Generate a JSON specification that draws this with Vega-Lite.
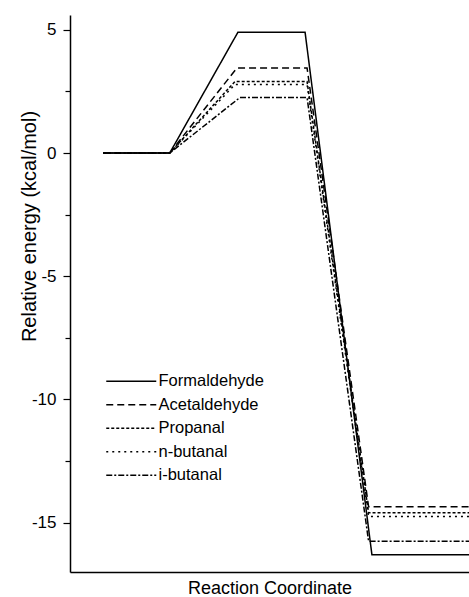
{
  "$schema": "https://vega.github.io/schema/vega-lite/v6.json",
  "width": 399,
  "height": 557,
  "autosize": "none",
  "padding": {"left": 70, "top": 15, "right": 0, "bottom": 25},
  "background": "white",
  "config": {
    "view": {"stroke": null},
    "font": "Liberation Sans",
    "axis": {"domainColor": "black", "tickColor": "black", "labelColor": "black", "titleColor": "black", "grid": false, "domainWidth": 1.5, "tickWidth": 1.2, "labelFont": "Liberation Sans", "titleFont": "Liberation Sans", "titleFontWeight": "normal"}
  },
  "data": {"values": [
    {"series": "Formaldehyde", "x": 1, "y": 0},
    {"series": "Formaldehyde", "x": 3, "y": 0},
    {"series": "Formaldehyde", "x": 5.05, "y": 4.9},
    {"series": "Formaldehyde", "x": 7.07, "y": 4.9},
    {"series": "Formaldehyde", "x": 9.08, "y": -16.3},
    {"series": "Formaldehyde", "x": 12, "y": -16.3},
    {"series": "Acetaldehyde", "x": 1, "y": 0},
    {"series": "Acetaldehyde", "x": 3, "y": 0},
    {"series": "Acetaldehyde", "x": 5.02, "y": 3.45},
    {"series": "Acetaldehyde", "x": 7.13, "y": 3.45},
    {"series": "Acetaldehyde", "x": 8.98, "y": -14.35},
    {"series": "Acetaldehyde", "x": 12, "y": -14.35},
    {"series": "Propanal", "x": 1, "y": 0},
    {"series": "Propanal", "x": 3, "y": 0},
    {"series": "Propanal", "x": 4.96, "y": 2.9},
    {"series": "Propanal", "x": 7.13, "y": 2.9},
    {"series": "Propanal", "x": 8.98, "y": -14.6},
    {"series": "Propanal", "x": 12, "y": -14.6},
    {"series": "n-butanal", "x": 1, "y": 0},
    {"series": "n-butanal", "x": 3, "y": 0},
    {"series": "n-butanal", "x": 4.96, "y": 2.78},
    {"series": "n-butanal", "x": 7.13, "y": 2.78},
    {"series": "n-butanal", "x": 8.98, "y": -14.75},
    {"series": "n-butanal", "x": 12, "y": -14.75},
    {"series": "i-butanal", "x": 1, "y": 0},
    {"series": "i-butanal", "x": 3, "y": 0},
    {"series": "i-butanal", "x": 5.11, "y": 2.25},
    {"series": "i-butanal", "x": 7.13, "y": 2.25},
    {"series": "i-butanal", "x": 8.98, "y": -15.75},
    {"series": "i-butanal", "x": 12, "y": -15.75}
  ]},
  "mark": {"type": "line", "color": "black", "strokeWidth": 1.5, "clip": true},
  "encoding": {
    "x": {"field": "x", "type": "quantitative", "scale": {"domain": [0, 12], "nice": false, "zero": false},
      "axis": {"title": "Reaction Coordinate", "labels": false, "ticks": false, "titleFontSize": 18, "titleBaseline": "alphabetic", "titleY": 21}},
    "y": {"field": "y", "type": "quantitative", "scale": {"domain": [-17, 5.6], "nice": false, "zero": false},
      "axis": {"title": "Relative energy (kcal/mol)", "values": [-15, -12.5, -10, -7.5, -5, -2.5, 0, 2.5, 5],
        "labelExpr": "datum.value % 5 == 0 ? toString(datum.value) : ''",
        "tickSize": {"condition": {"test": "datum.value % 5 != 0", "value": 5}, "value": 7},
        "labelFontSize": 17, "labelPadding": 7, "titleFontSize": 20,
        "titleBaseline": "alphabetic", "titleAngle": -90, "titleAlign": "center", "titleX": -35, "titleY": 211}},
    "strokeDash": {"field": "series", "type": "nominal",
      "scale": {"domain": ["Formaldehyde", "Acetaldehyde", "Propanal", "n-butanal", "i-butanal"],
        "range": [[1, 0], [7, 4], [3, 2], [2, 4], [6, 2, 2, 2]]},
      "legend": {"title": null, "orient": "none", "legendX": 53, "legendY": 358, "padding": 0,
        "symbolType": "M-5,0H5", "symbolSize": 100, "symbolStrokeColor": "black", "symbolStrokeWidth": 1.5,
        "labelFontSize": 16.5, "labelFont": "Liberation Sans", "labelColor": "black", "labelOffset": 19, "rowPadding": 6.5}}
  }
}
